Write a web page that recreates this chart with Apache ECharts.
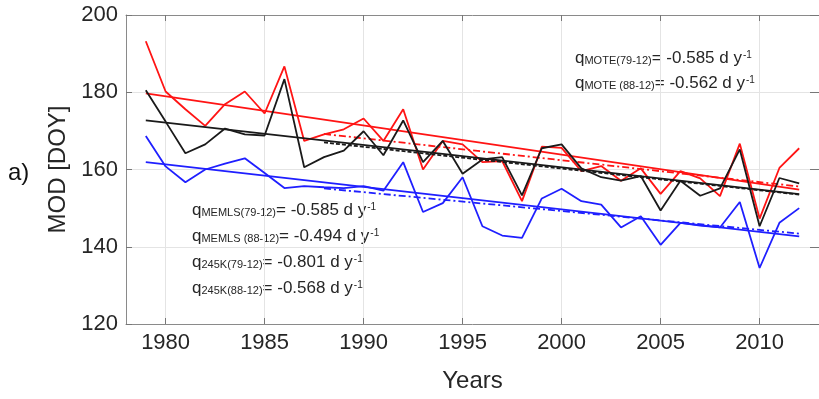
<!DOCTYPE html>
<html>
<head>
<meta charset="utf-8">
<script src="https://cdn.jsdelivr.net/npm/echarts@6/dist/echarts.min.js"></script>
<style>
  html, body { margin: 0; padding: 0; background: #fff; }
  #chart { width: 819px; height: 399px; }
</style>
</head>
<body>
<div id="chart"></div>
<script>
// ── Данные (читались с картинки) ───────────────────────────────────────────
var years = [1979, 1980, 1981, 1982, 1983, 1984, 1985, 1986, 1987, 1988, 1989,
             1990, 1991, 1992, 1993, 1994, 1995, 1996, 1997, 1998, 1999, 2000,
             2001, 2002, 2003, 2004, 2005, 2006, 2007, 2008, 2009, 2010, 2011, 2012];

var redValues = [193.2, 180.2, 175.6, 171.3, 176.9, 180.2, 174.5, 186.7, 167.4, 169.1, 170.4,
                 173.2, 167.4, 175.6, 160.0, 167.4, 166.5, 161.9, 162.2, 151.8, 165.9, 165.6,
                 159.6, 160.9, 157.1, 160.3, 153.7, 159.6, 157.7, 153.1, 166.7, 147.3, 160.4, 165.5];

var blackValues = [180.5, 172.4, 164.2, 166.5, 170.6, 169.1, 168.8, 183.4, 160.6, 163.2, 164.9,
                   169.9, 163.7, 172.7, 161.9, 167.4, 158.9, 162.6, 163.2, 153.3, 165.5, 166.5,
                   160.3, 158.0, 157.1, 158.3, 149.4, 157.1, 153.2, 155.1, 165.2, 145.3, 157.8, 156.4];

var blueValues = [168.7, 160.8, 156.7, 160.0, 161.5, 162.9, 159.1, 155.2, 155.7, 155.4, 155.2,
                  155.7, 154.5, 161.9, 149.0, 151.3, 158.0, 145.3, 142.9, 142.3, 152.5, 155.0,
                  151.8, 150.9, 145.0, 147.9, 140.5, 146.2, 145.5, 145.0, 151.6, 134.5, 146.2, 150.0];

// линии тренда: концы отрезков
var trendYears79 = [1979, 2012];
var trendYears88 = [1988, 2012];
var redTrend79 = [179.7, 154.8];
var redTrend88 = [169.2, 155.6];
var blackTrend79 = [172.7, 153.6];
var blackTrend88 = [167.0, 153.5];
var blueTrend79 = [161.9, 142.7];
var blueTrend88 = [155.1, 143.4];

var xTicks = [1980, 1985, 1990, 1995, 2000, 2005, 2010];

// подписи: [индекс, значение]
var notesTop = [
  ['MOTE(79-12)', '-0.585'],
  ['MOTE (88-12)', '-0.562']
];
var notesBottom = [
  ['MEMLS(79-12)', '-0.585'],
  ['MEMLS (88-12)', '-0.494'],
  ['245K(79-12)', '-0.801'],
  ['245K(88-12)', '-0.568']
];

var FONT = '"Liberation Sans", Arial, Helvetica, sans-serif';
var TXT = '#262626';

function _pairs(xs, ys) {
  return xs.map(function (x, i) { return [x, ys[i]]; });
}

function _line(name, data, color, type) {
  return {
    name: name,
    type: 'line',
    data: data,
    symbol: 'none',
    silent: true,
    lineStyle: { color: color, width: 1.8, type: type || 'solid' },
    animation: false
  };
}

function _note(left, top, idx, val) {
  return {
    type: 'text',
    left: left,
    top: top,
    style: {
      text: '{m|q}{s|' + idx + '}{m|= ' + val + ' d y}{p|-1}',
      rich: {
        m: { fontSize: 17, lineHeight: 18, verticalAlign: 'top', fontFamily: FONT, fill: TXT },
        s: { fontSize: 11, lineHeight: 11, padding: [5, 0, 0, 0], verticalAlign: 'top', fontFamily: FONT, fill: TXT },
        p: { fontSize: 10, lineHeight: 10, padding: [0, 0, 0, 1], verticalAlign: 'top', fontFamily: FONT, fill: TXT }
      }
    }
  };
}

var graphics = [{
  type: 'text', left: 8, top: 161,
  style: { text: 'a)', fontSize: 24, fontFamily: FONT, fill: '#111' }
}];
notesTop.forEach(function (n, i) { graphics.push(_note(575, 50 + i * 25, n[0], n[1])); });
notesBottom.forEach(function (n, i) { graphics.push(_note(192, 202 + i * 26, n[0], n[1])); });

var chart = echarts.init(document.getElementById('chart'));

var tickStyle = { show: true, inside: true, length: 6, customValues: xTicks, lineStyle: { color: '#777' } };

chart.setOption({
  animation: false,
  textStyle: { fontFamily: FONT },
  grid: { left: 126, right: -7, top: 15, bottom: 75 },
  graphic: graphics,
  xAxis: [{
    type: 'value',
    min: 1978,
    max: 2013,
    name: 'Years',
    nameLocation: 'middle',
    nameGap: 45,
    nameTextStyle: { fontSize: 24, color: TXT, fontFamily: FONT },
    axisLine: { show: true, lineStyle: { color: '#8a8a8a' } },
    axisTick: tickStyle,
    axisLabel: {
      customValues: xTicks, fontSize: 22, color: TXT, margin: 8, fontFamily: FONT,
      formatter: function (v) { return String(v); }
    },
    splitLine: { show: true, lineStyle: { color: '#e4e4e4', width: 1 } }
  }, {
    type: 'value',
    position: 'top',
    min: 1978,
    max: 2013,
    axisLine: { show: true, onZero: false, lineStyle: { color: '#8a8a8a' } },
    axisTick: tickStyle,
    axisLabel: { show: false },
    splitLine: { show: false }
  }],
  yAxis: [{
    type: 'value',
    min: 120,
    max: 200,
    interval: 20,
    name: 'MOD [DOY]',
    nameLocation: 'middle',
    nameGap: 51,
    nameTextStyle: { fontSize: 24, color: TXT, fontFamily: FONT },
    axisLine: { show: true, lineStyle: { color: '#8a8a8a' } },
    axisTick: { show: true, inside: true, length: 6, lineStyle: { color: '#777' } },
    axisLabel: { fontSize: 22, color: TXT, margin: 8, fontFamily: FONT },
    splitLine: { show: true, lineStyle: { color: '#e4e4e4', width: 1 } }
  }, {
    type: 'value',
    position: 'right',
    min: 120,
    max: 200,
    interval: 20,
    axisLine: { show: true, lineStyle: { color: '#8a8a8a' } },
    axisTick: { show: true, inside: true, length: 9, lineStyle: { color: '#777' } },
    axisLabel: { show: false },
    splitLine: { show: false }
  }],
  series: [
    _line('blue', _pairs(years, blueValues), '#1f1fff'),
    _line('blueT79', _pairs(trendYears79, blueTrend79), '#1f1fff'),
    _line('blueT88', _pairs(trendYears88, blueTrend88), '#1f1fff', [7, 3, 2, 3]),
    _line('red', _pairs(years, redValues), '#ff1414'),
    _line('redT79', _pairs(trendYears79, redTrend79), '#ff1414'),
    _line('redT88', _pairs(trendYears88, redTrend88), '#ff1414', [7, 3, 2, 3]),
    _line('black', _pairs(years, blackValues), '#1a1a1a'),
    _line('blackT79', _pairs(trendYears79, blackTrend79), '#1a1a1a'),
    _line('blackT88', _pairs(trendYears88, blackTrend88), '#1a1a1a', [4, 2])
  ]
});
</script>
</body>
</html>
